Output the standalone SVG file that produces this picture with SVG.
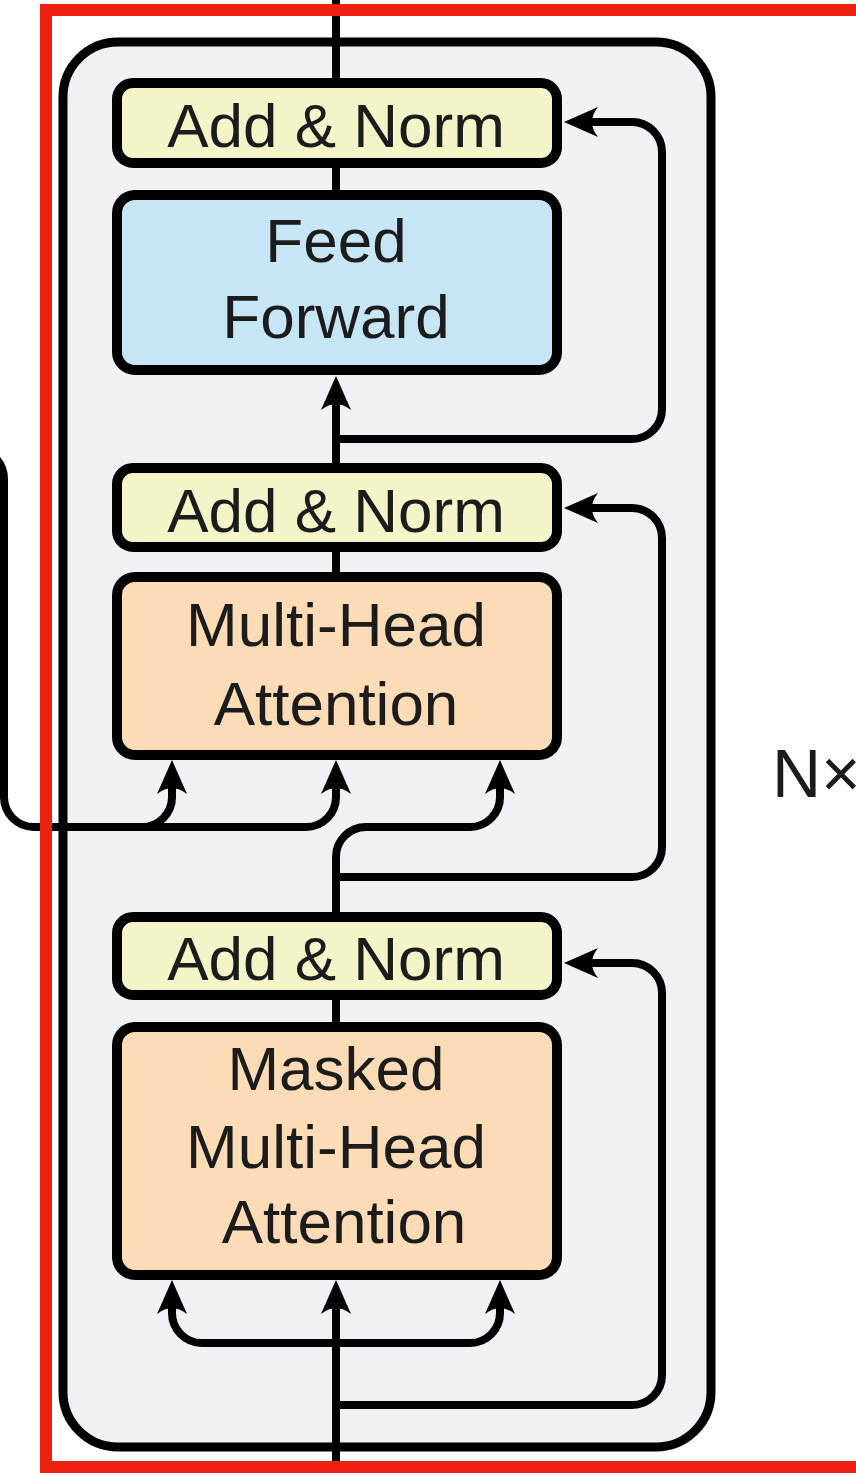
<svg xmlns="http://www.w3.org/2000/svg" width="856" height="1473" viewBox="0 0 856 1473">
  <style>
    .box { stroke: #000; stroke-width: 10; }
    .addnorm { fill: #f3f4c8; }
    .ff { fill: #c6e5f5; }
    .attn { fill: #fcdcb7; }
    .label { font-family: "Liberation Sans", Arial, sans-serif; font-size: 62px; fill: #1c1c1c; text-anchor: middle; }
    .wire { fill: none; stroke: #000; stroke-width: 8; }
    .arrow { marker-end: url(#head); }
  </style>
  <defs>
    <!-- concave arrowhead; path ends 22px before the tip -->
    <marker id="head" markerUnits="userSpaceOnUse" viewBox="-36 -17 40 34" markerWidth="40" markerHeight="34" refX="-22" refY="0" orient="auto">
      <path d="M0 0 L-34 -15 Q-22 0 -34 15 Z" fill="#000"/>
    </marker>
  </defs>

  <rect width="856" height="1473" fill="#ffffff"/>

  <!-- repeated decoder layer frame -->
  <g id="layer-frame">
    <rect x="63" y="42" width="648" height="1405" rx="55" fill="#f1f1f5" stroke="#000" stroke-width="9"/>
  </g>

  <g id="connectors">
    <!-- main residual stream -->
    <path class="wire" d="M336 0 V83"/>
    <path class="wire" d="M336 163 V195"/>
    <path class="wire arrow" d="M336 468 V398"/>
    <path class="wire" d="M336 547 V577"/>
    <path class="wire" d="M336 995 V1027"/>
    <path class="wire arrow" d="M336 1473 V1302"/>

    <!-- residual skips into Add & Norm -->
    <path class="wire arrow" d="M336 439 H632 A30 30 0 0 0 662 409 V152 A30 30 0 0 0 632 122 H586"/>
    <path class="wire arrow" d="M336 877 H632 A30 30 0 0 0 662 847 V538 A30 30 0 0 0 632 508 H586"/>
    <path class="wire arrow" d="M336 1405 H632 A30 30 0 0 0 662 1375 V993 A30 30 0 0 0 632 963 H586"/>

    <!-- encoder output into cross attention (keys / values) -->
    <path class="wire arrow" d="M-40 449 H-26 A30 30 0 0 1 4 479 V797 A30 30 0 0 0 34 827 H306 A30 30 0 0 0 336 797 V782"/>
    <path class="wire arrow" d="M142 827 A30 30 0 0 0 172 797 V782"/>
    <!-- query from the masked attention block -->
    <path class="wire arrow" d="M336 917 V857 A30 30 0 0 1 366 827 H470 A30 30 0 0 0 500 797 V782"/>

    <!-- self attention inputs -->
    <path class="wire arrow" d="M336 1343 H202 A30 30 0 0 1 172 1313 V1302"/>
    <path class="wire arrow" d="M336 1343 H470 A30 30 0 0 0 500 1313 V1302"/>
  </g>

  <g id="add-norm-top">
    <rect class="box addnorm" x="117" y="83" width="440" height="80" rx="16"/>
    <text class="label" x="336" y="147">Add &amp; Norm</text>
  </g>

  <g id="feed-forward">
    <rect class="box ff" x="117" y="195" width="440" height="175" rx="18"/>
    <text class="label" x="336" y="262">Feed</text>
    <text class="label" x="336" y="338">Forward</text>
  </g>

  <g id="add-norm-mid">
    <rect class="box addnorm" x="117" y="468" width="440" height="79" rx="16"/>
    <text class="label" x="336" y="532">Add &amp; Norm</text>
  </g>

  <g id="multi-head-attention">
    <rect class="box attn" x="117" y="577" width="440" height="178" rx="18"/>
    <text class="label" x="336" y="646">Multi-Head</text>
    <text class="label" x="336" y="725">Attention</text>
  </g>

  <g id="add-norm-bottom">
    <rect class="box addnorm" x="117" y="917" width="440" height="78" rx="16"/>
    <text class="label" x="336" y="980">Add &amp; Norm</text>
  </g>

  <g id="masked-multi-head-attention">
    <rect class="box attn" x="117" y="1027" width="440" height="248" rx="18"/>
    <text class="label" x="336" y="1090">Masked</text>
    <text class="label" x="336" y="1168">Multi-Head</text>
    <text class="label" x="344" y="1243">Attention</text>
  </g>

  <g id="repeat-count">
    <text x="772" y="797" font-family="Liberation Sans, Arial, sans-serif" font-size="68" fill="#1c1c1c">N×</text>
  </g>

  <!-- highlight frame -->
  <g id="highlight">
    <rect x="46" y="10" width="840" height="1457" fill="none" stroke="#ee2010" stroke-width="12"/>
  </g>
</svg>
